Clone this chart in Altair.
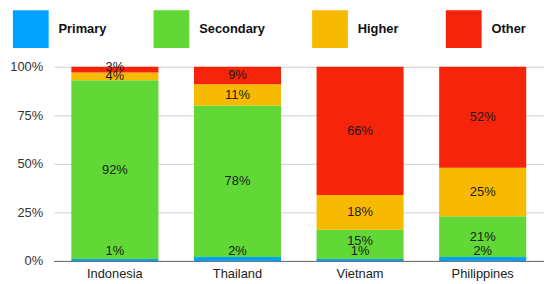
import altair as alt
import pandas as pd

countries = ["Indonesia", "Thailand", "Vietnam", "Philippines"]
levels = ["Primary", "Secondary", "Higher", "Other"]
colors = ["#00A2FF", "#61D836", "#F8BA00", "#F5240A"]
primary = [1, 2, 1, 2]
secondary = [92, 78, 15, 21]
higher = [4, 11, 18, 25]
other = [3, 9, 66, 52]

series = [primary, secondary, higher, other]
rows = []
for ci, c in enumerate(countries):
    cum = 0
    positions = []
    for li, lv in enumerate(levels):
        v = series[li][ci]
        center = cum + v / 2
        positions.append(center)
        cum += v
    # label collision rule: keep bottom label off the baseline, push labels apart
    positions[0] = max(positions[0], 5)
    for k in range(1, len(positions)):
        positions[k] = max(positions[k], positions[k - 1] + 5)
    for li, lv in enumerate(levels):
        rows.append({"country": c, "level": lv, "idx": li,
                     "value": series[li][ci], "pos": positions[li],
                     "label": f"{series[li][ci]}%"})
df = pd.DataFrame(rows)

FONT = "Liberation Sans"

x = alt.X("country:N", sort=countries, title=None,
          scale=alt.Scale(paddingInner=0.29, paddingOuter=0.145),
          axis=alt.Axis(labelAngle=0, labelFontSize=13, labelColor="#222",
                        ticks=False, labelPadding=7, domainColor="#666",
                        labelFont=FONT))

bars = alt.Chart(df).mark_bar().encode(
    x=x,
    y=alt.Y("value:Q", stack="zero", title=None,
            scale=alt.Scale(domain=[0, 100], nice=False),
            axis=alt.Axis(values=[0, 25, 50, 75, 100], labelExpr="datum.value + '%'",
                          labelFontSize=13, labelColor="#333", ticks=False,
                          domain=False, labelPadding=11, gridColor="#d0d0d0",
                          labelFont=FONT)),
    color=alt.Color("level:N", sort=levels,
                    scale=alt.Scale(domain=levels, range=colors),
                    legend=alt.Legend(title=None, orient="none", direction="horizontal",
                                      legendX=-42, legendY=-57,
                                      symbolType="M-0.95,-1H0.95V1H-0.95Z",
                                      symbolSize=1444, symbolStrokeWidth=0,
                                      symbolOpacity=1,
                                      labelFontSize=13, labelFontWeight="bold",
                                      labelColor="#111", labelFont=FONT,
                                      labelOffset=9, columnPadding=46, padding=0)),
    order=alt.Order("idx:Q", sort="ascending"),
)

texts = alt.Chart(df).mark_text(fontSize=13, color="#1a1a1a", font=FONT,
                                baseline="middle").encode(
    x=alt.X("country:N", sort=countries),
    y=alt.Y("pos:Q"),
    text="label:N",
)

chart = alt.layer(bars, texts).properties(
    width=495, height=196,
    autosize=alt.AutoSizeParams(type="none"),
    padding={"left": 46, "top": 58, "right": 0, "bottom": 22},
).configure_view(stroke=None)

chart.save("out.html", embed_options={"renderer": "svg", "actions": False})
